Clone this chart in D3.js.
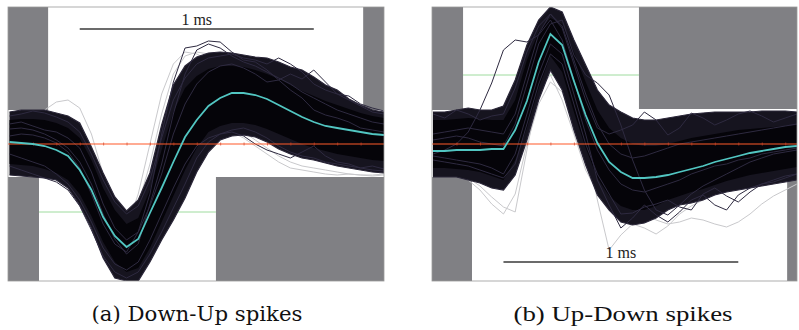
<!DOCTYPE html>
<html><head><meta charset="utf-8">
<script src="https://cdn.jsdelivr.net/npm/d3@7"></script>
<style>html,body{margin:0;padding:0;background:#fff;}svg{display:block;}</style>
</head><body><svg id="c" width="799" height="330"></svg>
<script>
// ---------- DATA (time in ms, amplitude in arbitrary units, 0 = baseline) ----------
const sampleMs = 0.05;
const nA = 33, nB = 32;

// Panel (a) Down-Up spikes
const meanA    = [2,1,0,-2,-6,-12,-26,-46,-73,-92,-103,-95,-69,-44,-18,7,24,38,46,51,51,49,45,39,33,27,22,18,16,14,12,10,9];
const outerUpA = [32,34,34,34,31,28,21,-3,-29,-53,-67,-56,-29,19,59,78,87,91,92,91,89,87,86,82,77,74,67,59,54,45,39,34,32];
const outerLoA = [-31,-32,-33,-34,-36,-44,-61,-84,-114,-134,-137,-137,-118,-96,-76,-54,-28,-8,4,8,9,7,2,-5,-10,-14,-16,-19,-22,-24,-26,-28,-29];
const coreUpA  = [24,25,25,24,21,16,6,-16,-44,-66,-80,-74,-46,-6,32,56,68,75,78,78,77,74,70,65,59,53,48,43,39,35,31,28,26];
const coreLoA  = [-20,-21,-22,-25,-29,-36,-50,-72,-98,-118,-128,-124,-104,-78,-52,-26,-4,12,18,21,21,19,15,10,5,0,-4,-7,-10,-12,-14,-16,-17];
const darkA1 = [8,10,9,6,1,-8,-24,-50,-80,-100,-108,-88,-50,10,62,96,98,103,102,92,84,82,74,64,54,46,34,29,26,22,16,14,12];
const darkA2 = [15,16,14,10,4,-4,-18,-40,-70,-95,-110,-100,-60,-20,30,70,94,100,96,88,82,78,72,66,60,52,46,40,34,30,26,22,20];
const darkA3 = [20,22,18,14,12,6,-4,-28,-60,-84,-96,-88,-62,-30,10,40,60,72,78,80,76,70,62,64,70,65,74,62,50,44,38,32,30];
const darkA4 = [-10,-14,-18,-22,-30,-40,-56,-78,-104,-120,-126,-118,-96,-70,-44,-20,-2,6,10,12,8,0,-6,-10,-14,-8,-2,-12,-18,-20,-24,-22,-25];
const darkA5 = [-22,-26,-30,-34,-38,-46,-62,-86,-112,-128,-134,-128,-110,-88,-64,-40,-14,2,10,14,16,12,6,-2,-8,-12,-14,-18,-20,-22,-24,-26,-27];
const darkA6 = [28,30,33,31,27,22,12,-10,-36,-58,-70,-62,-36,6,44,66,80,86,88,90,86,84,80,86,80,72,60,54,50,48,40,36,33];
const grayA1 = [20,24,28,34,42,44,36,10,-30,-60,-72,-60,-20,30,70,88,92,90,84,78,72,66,60,54,48,42,36,30,24,18,12,8,6];
const grayA2 = [4,6,4,0,-6,-16,-34,-60,-84,-92,-84,-50,0,50,80,92,90,84,76,70,64,58,52,46,40,34,28,22,16,10,4,0,-2];
const grayA3 = [0,-2,-4,-8,-14,-22,-38,-60,-88,-108,-116,-106,-80,-52,-26,-4,10,18,20,18,12,4,-4,-12,-18,-22,-24,-26,-28,-30,-31,-31,-30];
const grayA4 = [-5,-8,-10,-14,-20,-28,-44,-68,-96,-116,-124,-112,-86,-58,-32,-10,4,12,14,12,6,-2,-10,-18,-24,-26,-28,-30,-31,-30,-31,-32,-31];
const gatesA = [
  {t0:-1, t1:0.165, v0:34, v1:300},
  {t0:-1, t1:0.126, v0:-300, v1:-33},
  {t0:1.511, t1:9, v0:34, v1:300},
  {t0:0.882, t1:9, v0:-300, v1:-33}
];
const thresholdA = {t0:0.126, t1:0.882, v:-68};
const scaleBarA = {t0:0.3, t1:1.3, v:115, label:"1 ms"};

// Panel (b) Up-Down spikes
const meanB    = [-7,-7,-6,-6,-6,-5,-5,14,43,82,110,99,63,29,1,-18,-28,-34,-34,-33,-31,-28,-25,-22,-18,-15,-12,-9,-7,-5,-3,-2];
const outerUpB = [32,32,34,36,34,34,38,64,99,124,137,132,104,79,54,39,32,26,24,24,26,28,30,31,32,32,32,32,33,33,33,32];
const outerLoB = [-33,-33,-33,-36,-39,-44,-46,-31,4,44,74,54,14,-21,-51,-66,-78,-81,-79,-74,-66,-61,-59,-56,-51,-48,-46,-44,-42,-40,-38,-36];
const coreUpB  = [24,24,25,26,25,24,24,44,84,112,126,120,92,62,34,16,6,0,-2,-2,0,3,6,8,10,12,14,15,16,17,18,19];
const coreLoB  = [-24,-24,-25,-26,-28,-32,-36,-16,16,56,88,72,32,-4,-34,-52,-62,-66,-66,-62,-56,-52,-48,-45,-41,-37,-34,-31,-29,-27,-25,-23];
const darkB1 = [-10,-6,0,12,34,61,94,104,102,109,124,104,64,24,-6,-26,-40,-46,-48,-44,-40,-36,-30,-26,-22,-20,-16,-14,-10,-8,-6,-4];
const darkB2 = [4,6,8,6,2,0,-2,20,60,100,120,124,89,69,61,49,19,-16,-46,-66,-71,-61,-50,-42,-36,-30,-24,-18,-14,-10,-8,-6];
const darkB3 = [-12,-14,-16,-18,-20,-24,-30,-10,30,70,100,90,50,10,-36,-61,-84,-74,-61,-71,-78,-68,-56,-51,-61,-66,-51,-44,-40,-36,-32,-30];
const darkB4 = [10,12,14,16,14,12,10,30,70,110,130,116,80,44,16,10,14,19,32,24,9,16,31,26,19,24,30,33,28,22,26,30];
const darkB5 = [-16,-18,-20,-22,-26,-30,-34,-20,20,60,90,80,40,0,-30,-50,-70,-69,-63,-60,-56,-63,-66,-50,-44,-52,-58,-48,-40,-38,-34,-30];
const darkB6 = [30,26,34,30,24,28,30,56,92,118,130,118,84,50,20,0,-10,-14,-12,-8,-4,0,2,4,6,8,10,12,14,16,18,20];
const grayB1 = [-20,-24,-28,-34,-42,-53,-63,-68,-6,54,69,44,10,-26,-48,-60,-66,-62,-56,-52,-48,-44,-40,-36,-33,-30,-28,-26,-24,-22,-20,-18];
const grayB2 = [-4,-6,-8,-6,-4,-2,0,20,56,96,118,104,64,4,-56,-106,-91,-80,-84,-90,-82,-70,-62,-56,-50,-44,-38,-32,-28,-24,-20,-18];
const grayB3 = [-14,-16,-18,-20,-22,-26,-30,-10,30,64,80,70,40,0,-30,-48,-60,-66,-70,-76,-80,-78,-74,-76,-80,-83,-78,-70,-60,-52,-46,-40];
const grayB4 = [-2,-4,-6,-8,-10,-12,-14,-6,24,56,72,60,24,-8,-30,-44,-52,-54,-52,-48,-44,-40,-36,-32,-28,-24,-20,-18,-16,-14,-12,-10];
const grayB5 = [-22,-26,-30,-36,-46,-60,-70,-50,0,40,62,52,20,-14,-40,-56,-64,-64,-60,-54,-48,-42,-38,-34,-30,-28,-26,-24,-22,-20,-18,-16];
const gatesB = [
  {t0:-1, t1:0.128, v0:34, v1:300},
  {t0:-1, t1:0.166, v0:-300, v1:-33},
  {t0:0.877, t1:9, v0:35, v1:300},
  {t0:1.508, t1:9, v0:-300, v1:-33}
];
const thresholdB = {t0:0.128, t1:0.877, v:69};
const scaleBarB = {t0:0.3, t1:1.3, v:-118, label:"1 ms"};

const captions = ["(a) Down-Up spikes", "(b) Up-Down spikes"];

// ---------- DRAWING ----------
const svg = d3.select("#c");
const y = d3.scaleLinear().domain([-137, 137]).range([281, 7]);

const panels = [
  {id:"a", frame:[8,384], x:d3.scaleLinear().domain([0,1.6]).range([9.5,384]), n:nA,
   mean:meanA, outerUp:outerUpA, outerLo:outerLoA, coreUp:coreUpA, coreLo:coreLoA,
   dark:[darkA1,darkA2,darkA3,darkA4,darkA5,darkA6], gray:[grayA1,grayA2,grayA3,grayA4],
   gates:gatesA, thr:thresholdA, bar:scaleBarA, caption:captions[0], capX:197, capW:211,
   capFont:"DejaVu Serif", barFont:"serif"},
  {id:"b", frame:[432,797], x:d3.scaleLinear().domain([0,1.55]).range([433,797]), n:nB,
   mean:meanB, outerUp:outerUpB, outerLo:outerLoB, coreUp:coreUpB, coreLo:coreLoB,
   dark:[darkB1,darkB2,darkB3,darkB4,darkB5,darkB6], gray:[grayB1,grayB2,grayB3,grayB4,grayB5],
   gates:gatesB, thr:thresholdB, bar:scaleBarB, caption:captions[1], capX:623, capW:219,
   capFont:"Liberation Serif", barFont:"Times New Roman"}
];

const defs = svg.append("defs");

panels.forEach(p => {
  const times = d3.range(p.n).map(i => i * sampleMs);
  const x = p.x;
  const [fx0, fx1] = p.frame;
  const fy0 = y(137), fy1 = y(-137);

  defs.append("clipPath").attr("id", "clip-" + p.id)
    .append("rect").attr("x", fx0).attr("y", fy0).attr("width", fx1 - fx0).attr("height", fy1 - fy0);

  const g = svg.append("g").attr("clip-path", `url(#clip-${p.id})`);

  g.selectAll("rect.gate").data(p.gates).join("rect").attr("class", "gate")
    .attr("x", d => x(d.t0)).attr("width", d => x(d.t1) - x(d.t0))
    .attr("y", d => y(d.v1)).attr("height", d => y(d.v0) - y(d.v1))
    .attr("fill", "#808084");

  g.append("line")
    .attr("x1", x(p.thr.t0)).attr("x2", x(p.thr.t1))
    .attr("y1", y(p.thr.v)).attr("y2", y(p.thr.v))
    .attr("stroke", "#8ed68e").attr("stroke-width", 1).attr("opacity", 0.85);

  const line = d3.line().x((d, i) => x(times[i])).y(d => y(d));

  g.selectAll("path.gray").data(p.gray).join("path").attr("class", "gray")
    .attr("d", line).attr("fill", "none").attr("stroke", "#c9c9cc").attr("stroke-width", 1);

  const area = (up, lo) => d3.area()
    .x((d, i) => x(times[i])).y0((d, i) => y(lo[i])).y1((d, i) => y(up[i]))(up);
  g.append("path").attr("d", area(p.outerUp, p.outerLo)).attr("fill", "#16141f");
  g.append("path").attr("d", area(p.coreUp, p.coreLo)).attr("fill", "#050409");

  [p.outerUp, p.outerLo].forEach(arr => {
    g.append("path").attr("d", line(arr)).attr("fill", "none")
      .attr("stroke", "#2a2638").attr("stroke-width", 1.2);
  });

  g.selectAll("path.dark").data(p.dark).join("path").attr("class", "dark")
    .attr("d", line).attr("fill", "none").attr("stroke", "#2e2a40").attr("stroke-width", 1);

  g.append("line")
    .attr("x1", fx0).attr("x2", fx1).attr("y1", y(0)).attr("y2", y(0))
    .attr("stroke", "#ff5a2a").attr("stroke-width", 2).attr("opacity", 0.5);
  const tickVals = times.filter((t, i) => i % 2 === 0 && i > 0);
  const ax = g.append("g").attr("transform", `translate(0,${y(0) - 1.5})`)
    .call(d3.axisBottom(x).tickValues(tickVals).tickSizeInner(3).tickSizeOuter(0).tickFormat(""));
  ax.select(".domain").remove();
  ax.selectAll(".tick line").attr("stroke", "#d2452a").attr("opacity", 0.7);

  g.append("path").attr("d", line(p.mean)).attr("fill", "none")
    .attr("stroke", "#52c6c2").attr("stroke-width", 1.8);

  g.append("line")
    .attr("x1", x(p.bar.t0)).attr("x2", x(p.bar.t1))
    .attr("y1", y(p.bar.v)).attr("y2", y(p.bar.v))
    .attr("stroke", "#3a3a3a").attr("stroke-width", 1.4);
  g.append("text")
    .attr("x", x((p.bar.t0 + p.bar.t1) / 2)).attr("y", y(p.bar.v) - 4)
    .attr("text-anchor", "middle")
    .style("font-family", p.barFont)
    .attr("font-size", 16).attr("fill", "#222")
    .text(p.bar.label);

  svg.append("rect").attr("x", fx0).attr("y", fy0).attr("width", fx1 - fx0).attr("height", fy1 - fy0)
    .attr("fill", "none").attr("stroke", "#9a9a9a").attr("stroke-width", 0.8);

  svg.append("text")
    .attr("x", p.capX).attr("y", 321).attr("text-anchor", "middle")
    .style("font-family", `'${p.capFont}'`)
    .attr("font-size", 21).attr("fill", "#111")
    .attr("textLength", p.capW).attr("lengthAdjust", "spacingAndGlyphs")
    .text(p.caption);
});
</script></body></html>
